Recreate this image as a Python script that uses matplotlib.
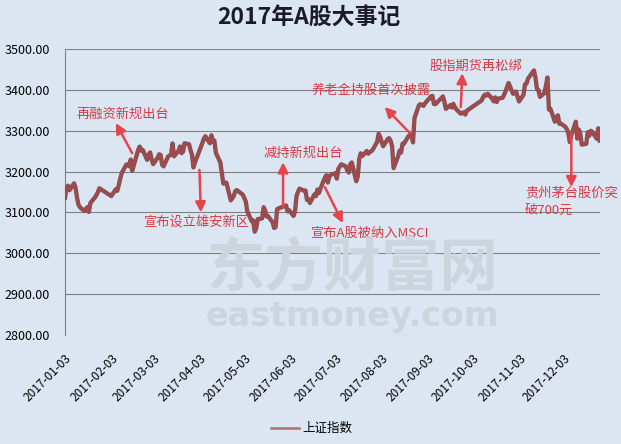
import numpy as np
import pandas as pd
import matplotlib
matplotlib.use('Agg')
import matplotlib.pyplot as plt
import matplotlib.dates as mdates
import matplotlib.patheffects as pe

plt.rcParams['font.family'] = ['Noto Sans CJK SC', 'DejaVu Sans']

# trading days (exchange holidays removed)
holidays = ['2017-01-02', '2017-01-27', '2017-01-30', '2017-01-31', '2017-02-01', '2017-02-02',
            '2017-04-03', '2017-04-04', '2017-05-01', '2017-05-29', '2017-05-30',
            '2017-10-02', '2017-10-03', '2017-10-04', '2017-10-05', '2017-10-06']
days = pd.bdate_range('2017-01-03', '2017-12-27')
days = days[~days.isin(pd.to_datetime(holidays))]

# 上证指数 close, month by month
jan = [3135.92, 3158.79, 3165.41, 3154.32, 3171.24, 3161.67, 3136.75, 3119.29, 3112.76, 3103.43,
       3108.77, 3113.01, 3101.30, 3123.14, 3136.77, 3142.55, 3149.55, 3159.17]
feb = [3140.17, 3156.98, 3153.09, 3166.98, 3183.18, 3196.70, 3216.84, 3217.93, 3212.99, 3229.62,
       3202.08, 3240.16, 3253.33, 3261.22, 3251.38, 3253.43, 3228.66, 3241.73]
mar = [3246.93, 3230.03, 3218.31, 3233.87, 3242.41, 3240.66, 3216.75, 3212.76, 3237.02, 3239.33,
       3241.76, 3268.94, 3237.45, 3250.81, 3261.61, 3245.22, 3248.55, 3269.39, 3266.96, 3252.95,
       3241.31, 3210.24, 3222.51]
apr = [3270.30, 3281.00, 3286.62, 3269.39, 3288.97, 3273.83, 3275.96, 3246.07, 3222.17, 3196.71,
       3170.69, 3172.10, 3173.15, 3129.53, 3134.57, 3140.85, 3152.19, 3154.66]
may = [3143.71, 3135.35, 3127.37, 3103.04, 3078.61, 3080.53, 3052.79, 3061.50, 3083.51, 3085.49,
       3112.96, 3104.44, 3090.14, 3090.63, 3075.68, 3061.95, 3064.08, 3107.83, 3110.06, 3117.18]
jun = [3102.62, 3105.54, 3091.66, 3102.10, 3140.32, 3150.33, 3158.40, 3153.51, 3153.74, 3130.67,
       3132.49, 3123.17, 3144.37, 3140.01, 3156.21, 3147.45, 3157.87, 3185.44, 3191.20, 3173.20,
       3188.06, 3192.43]
jul = [3195.91, 3182.80, 3207.13, 3212.44, 3217.96, 3212.63, 3203.04, 3197.54, 3218.16, 3222.42,
       3176.47, 3187.57, 3230.98, 3244.86, 3237.98, 3250.60, 3243.69, 3247.67, 3249.78, 3253.24,
       3273.03]
aug = [3292.64, 3285.06, 3272.93, 3262.08, 3279.46, 3281.87, 3275.57, 3261.75, 3208.54, 3237.36,
       3251.26, 3246.45, 3268.43, 3268.72, 3286.91, 3290.23, 3287.71, 3271.51, 3331.52, 3362.65,
       3365.23, 3363.63, 3360.81]
sep = [3367.12, 3379.58, 3384.32, 3385.39, 3365.50, 3365.24, 3376.42, 3379.49, 3384.15, 3371.43,
       3353.62, 3362.86, 3356.84, 3366.00, 3357.81, 3352.53, 3341.55, 3343.58, 3345.27, 3339.64,
       3348.94]
oct_ = [3374.38, 3382.99, 3388.28, 3386.10, 3390.52, 3378.47, 3372.04, 3381.79, 3370.17, 3378.65,
        3380.70, 3388.25, 3396.90, 3407.57, 3416.81, 3390.34, 3393.34]
nov = [3395.91, 3383.31, 3371.74, 3388.17, 3413.57, 3415.46, 3427.79, 3432.67, 3447.84, 3429.55,
       3402.52, 3399.25, 3382.91, 3392.40, 3410.50, 3430.46, 3351.92, 3353.82, 3322.23, 3333.66,
       3337.86, 3317.19]
dec = [3317.62, 3309.62, 3303.68, 3293.96, 3272.05, 3289.45, 3322.20, 3280.81, 3303.04, 3292.44,
       3266.14, 3267.92, 3296.54, 3287.61, 3300.06, 3297.06, 3280.46, 3306.12, 3275.78]
close = np.array(jan + feb + mar + apr + may + jun + jul + aug + sep + oct_ + nov + dec)

tick_dates = pd.date_range('2017-01-03', periods=12, freq=pd.DateOffset(months=1))
y_ticks = [2800, 2900, 3000, 3100, 3200, 3300, 3400, 3500]

# events: label, text anchor (date, value), arrow tail, arrow head
events = [
    ('再融资新规出台', ('2017-01-11', 3341), ('2017-02-17', 3245), ('2017-02-06', 3319)),
    ('宣布设立雄安新区', ('2017-02-24', 3077), ('2017-04-03', 3204), ('2017-04-04', 3100)),
    ('减持新规出台', ('2017-05-16', 3246), ('2017-05-29', 3113), ('2017-05-29', 3223)),
    ('宣布A股被纳入MSCI', ('2017-06-16', 3050), ('2017-06-26', 3162), ('2017-07-08', 3074)),
    ('养老金持股首次披露', ('2017-06-17', 3400), ('2017-08-22', 3294), ('2017-08-05', 3358)),
    ('股指期货再松绑', ('2017-09-04', 3458), ('2017-09-25', 3358), ('2017-09-26', 3441)),
    ('贵州茅台股价突\n破700元', ('2017-11-07', 3126), ('2017-12-08', 3294), ('2017-12-08', 3162)),
]

bg = '#DCE6F2'
red_txt = '#D63A44'
red_arrow = '#E5444B'

fig = plt.figure(figsize=(6.21, 4.44), dpi=100, facecolor=bg)
ax = fig.add_axes([0.1047, 0.2455, 0.861, 0.644])
ax.set_facecolor(bg)

# watermark
fig.text(0.567, 0.392, '东方财富网', fontsize=42, fontweight='bold', color='#CCD4DE',
         ha='center', va='center', zorder=0)
fig.text(0.567, 0.288, 'eastmoney.com', fontsize=24, fontweight='bold', color='#CCD4DE',
         ha='center', va='center', family='DejaVu Sans', zorder=0)

line, = ax.plot(days, close, color='#A8464A', lw=1.8, zorder=3, label='上证指数',
                path_effects=[pe.Stroke(linewidth=3.1, foreground='#75585A'), pe.Normal()])

for label, txt, tail, head in events:
    ax.annotate('', xy=(pd.Timestamp(head[0]), head[1]), xytext=(pd.Timestamp(tail[0]), tail[1]),
                arrowprops=dict(arrowstyle='-|>,head_length=0.6,head_width=0.3', color=red_arrow,
                                lw=1.8, shrinkA=0, shrinkB=0), zorder=4)
    ax.text(pd.Timestamp(txt[0]), txt[1], label, color=red_txt, fontsize=9.5, ha='left',
            va='center', linespacing=1.45, zorder=5)

ax.set_xlim(days[0], days[-1])
ax.set_ylim(2800, 3500)
ax.set_yticks(y_ticks)
ax.set_yticklabels([f'{v:.2f}' for v in y_ticks], fontsize=9)
ax.set_xticks(tick_dates)
ax.xaxis.set_major_formatter(mdates.DateFormatter('%Y-%m-%d'))
plt.setp(ax.get_xticklabels(), rotation=45, ha='right', rotation_mode='anchor', fontsize=8.5)
ax.tick_params(axis='y', length=0, pad=11)
ax.tick_params(axis='x', length=0, pad=12)
ax.grid(axis='y', color='#808080', lw=0.8)
for s in ['top', 'right', 'bottom']:
    ax.spines[s].set_visible(False)
ax.spines['left'].set_color('#808080')

fig.text(0.497, 0.962, '2017年A股大事记', fontsize=16.5, fontweight='bold', color='#1A1A2A',
         ha='center', va='center')

leg = fig.legend(handles=[line], loc='center', bbox_to_anchor=(0.502, 0.035), frameon=False,
                 fontsize=9, handlelength=2.2, handletextpad=0.3)
leg.get_lines()[0].set_path_effects([])
leg.get_lines()[0].set_color('#B07070')

fig.savefig('out.png', dpi=100, facecolor=bg)
